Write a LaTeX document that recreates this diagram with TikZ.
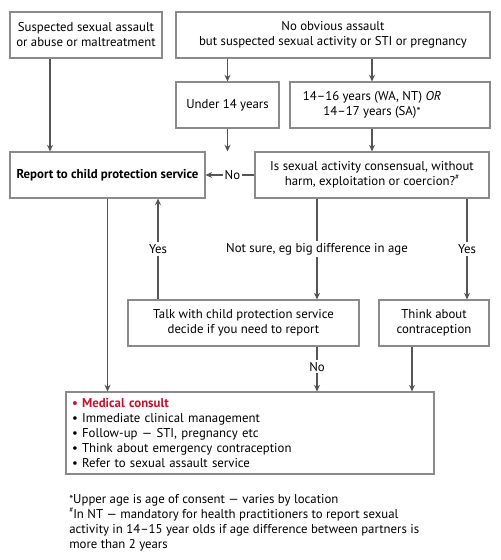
\documentclass[tikz,border=0pt]{standalone}
\usepackage{fontspec}
\setmainfont{PT Sans}
\usetikzlibrary{arrows.meta}
\definecolor{linec}{HTML}{555555}
\definecolor{boxc}{HTML}{8A8A8A}
\definecolor{medred}{HTML}{C8102E}
\newcommand\myast{{\fontsize{8.5}{8}\selectfont *}}
\newcommand\myhash{\raisebox{0.45em}{\fontsize{5.5}{6}\selectfont\#}}
\begin{document}
\begin{tikzpicture}[x=0.75pt,y=-0.75pt,
  font=\fontsize{9.6}{11.25}\selectfont,
  box/.style={draw=boxc, line width=0.8pt, fill=white, align=center, inner sep=0pt, minimum height=34.5pt},
  arr/.style={draw=linec, line width=0.8pt, -{Stealth[length=5pt,width=4.5pt]}},
  lab/.style={fill=white, inner sep=1.5pt}]
\useasboundingbox[fill=white] (0,0) rectangle (500,560);
% boxes
\node[box, minimum width=114pt] (b1) at (86,35) {Suspected sexual assault\\or abuse or maltreatment};
\node[box, minimum width=235.5pt] (b2) at (333,35) {No obvious assault\\but suspected sexual activity or STI or pregnancy};
\node[box, minimum width=77.25pt] (u14) at (227.5,105) {Under 14 years};
\node[box, minimum width=150pt] (age) at (390,105) {};
\node[align=center] (agetxt) at (372,105) {14–16 years (WA, NT) \textit{OR}\\14–17 years (SA)\myast};
\node[box, minimum width=146.25pt] (rep) at (107.5,175) {\textbf{Report to child protection service}};
\node[box, minimum width=175.5pt] (q) at (372,175) {Is sexual activity consensual, without\\harm, exploitation or coercion?\myhash};
\node[box, minimum width=173.25pt] (talk) at (243.5,323) {Talk with child protection service\\decide if you need to report};
\node[box, minimum width=82.5pt] (con) at (434,323) {Think about\\contraception};
\node[box, minimum width=276pt, minimum height=61.5pt, align=left, text width=267pt, inner xsep=4.5pt] (med) at (250,433)
  {\textcolor{medred}{\textbf{• Medical consult}}\\
   • Immediate clinical management\\
   • Follow-up — STI, pregnancy etc\\
   • Think about emergency contraception\\
   • Refer to sexual assault service};
\node[anchor=north west, align=left, inner sep=0pt] (fn) at (69,494)
  {\myast Upper age is age of consent — varies by location\\
   \myhash In NT — mandatory for health practitioners to report sexual\\
   activity in 14–15 year olds if age difference between partners is\\
   more than 2 years};
% helper coordinates for connector x positions
\coordinate (c50) at (50,0);
\coordinate (c158) at (158,0);
\coordinate (c317) at (317,0);
\coordinate (c412) at (412,0);
\coordinate (c467) at (467,0);
% connectors
\draw[arr] (b1.south -| c50) -- (rep.north -| c50);
\draw[arr] (b2.south -| u14) -- (u14.north);
\draw[arr] (b2.south -| q) -- (age.north -| q);
\draw[arr] (u14.south) -- (rep.north -| u14);
\draw[arr] (age.south -| q) -- (q.north);
\draw[arr] (q.west) -- node[lab, pos=0.45]{No} (rep.east);
\draw[arr] (rep.south) -- (med.north -| rep.south);
\draw[arr] (talk.north -| c158) -- node[lab]{Yes} (rep.south -| c158);
\draw[arr] (q.south -| c317) -- node[lab]{Not sure, eg big difference in age} (talk.north -| c317);
\draw[arr] (q.south -| c467) -- node[lab]{Yes} (con.north -| c467);
\draw[arr] (talk.south -| c317) -- node[lab, pos=0.45]{No} (med.north -| c317);
\draw[arr] (con.south -| c412) -- (med.north -| c412);
\end{tikzpicture}
\end{document}
